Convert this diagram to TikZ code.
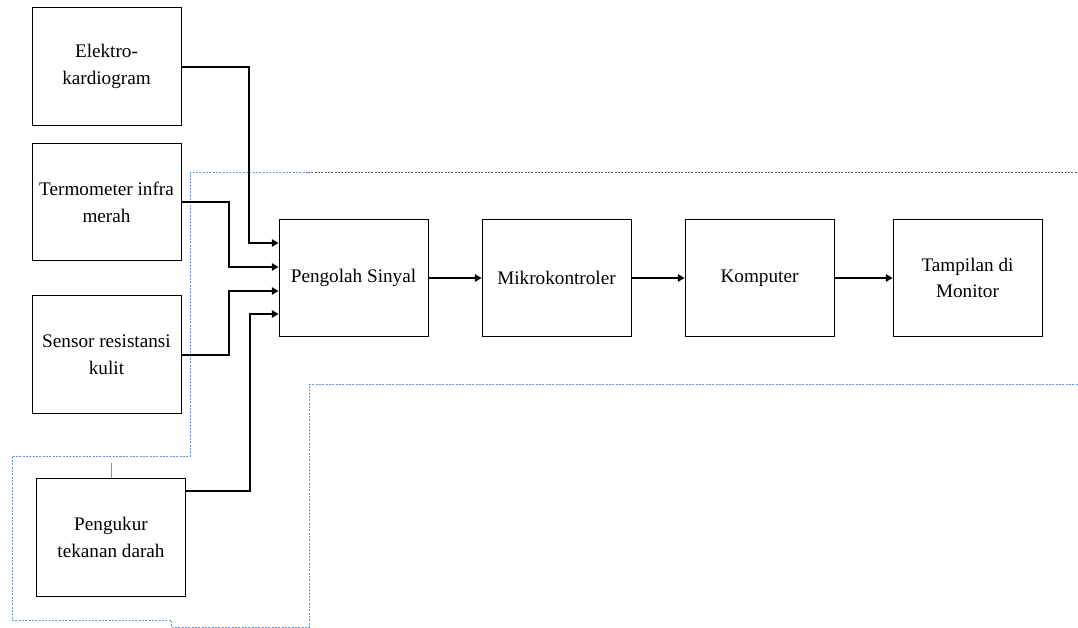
\documentclass[tikz,border=0pt]{standalone}
\usepackage{fontspec}
\setmainfont{Liberation Serif}
\usetikzlibrary{arrows.meta,positioning}

\definecolor{dashblue}{RGB}{100,150,215}
\definecolor{dashgray}{RGB}{90,90,90}

\tikzset{
  blok/.style={draw, line width=0.6pt, minimum width=111.75pt, minimum height=88pt,
    align=center, inner sep=2pt, font=\fontsize{14.4}{20}\selectfont},
  conn/.style={line width=1.5pt, -{Triangle[length=5pt,width=5.5pt]}},
  batasbiru/.style={dashblue, line width=0.6pt, dash pattern=on 1.5pt off 1pt},
  batasabu/.style={dashgray, line width=0.6pt, dash pattern=on 1.5pt off 1pt}
}

\begin{document}
\begin{tikzpicture}[x=0.75pt,y=-0.75pt]
  \useasboundingbox (0,0) rectangle (1078,628);

  % Sensor inputs
  \node[blok] (ekg) at (106.5,66.5) {Elektro-\\kardiogram};
  \node[blok] (termo) at (106.5,202) {Termometer infra\\merah};
  \node[blok] (kulit) at (106.5,354.5) {Sensor resistansi\\kulit};
  \node[blok] (tekanan) at (111,537.5) {Pengukur\\tekanan darah};

  % Processing chain
  \node[blok] (olah) at (353.5,278) {Pengolah Sinyal};
  \node[blok] (mikro) at (556.5,278) {Mikrokontroler};
  \node[blok] (komp) at (759.5,278) {Komputer};
  \node[blok] (monitor) at (967.5,278) {Tampilan di\\Monitor};

  % Boundary lines
  \draw[batasbiru] (308,172.5) -- (190,172.5) -- (190,456) -- (12,456) -- (12,620)
    -- (171,620) -- (171,627) -- (309,627) -- (309,384.5) -- (1078,384.5);
  \draw[batasabu] (308,172.5) -- (1078,172.5);
  \draw[dashblue, line width=0.6pt] (tekanan.north) -- ++(0,-15);

  % Arrows into Pengolah Sinyal
  \draw[conn] (ekg.east) -- ++(68,0) |- ([yshift=26.25pt]olah.west);
  \draw[conn] (termo.east) -- ++(48,0) |- ([yshift=8.25pt]olah.west);
  \draw[conn] (kulit.east) -- ++(48,0) |- ([yshift=-9.75pt]olah.west);
  \draw[conn] ([yshift=35pt]tekanan.east) -- ++(64,0) |- ([yshift=-27pt]olah.west);

  % Main chain
  \draw[conn] (olah) -- (mikro);
  \draw[conn] (mikro) -- (komp);
  \draw[conn] (komp) -- (monitor);
\end{tikzpicture}
\end{document}
